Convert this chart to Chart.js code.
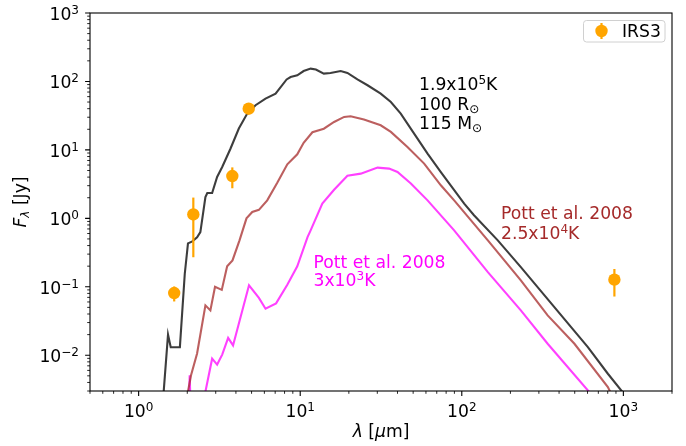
<!DOCTYPE html>
<html>
<head>
<meta charset="utf-8">
<script src="https://cdn.jsdelivr.net/npm/chart.js@4.4.0/dist/chart.umd.min.js"></script>
<style>
  body { margin: 0; background: #fff; }
  canvas { display: block; }
</style>
</head>
<body>
<canvas id="sed" width="686" height="446"></canvas>
<script>
// modelo 1.9x10^5 K, 100 Rsol, 115 Msol
var modeloX = [1.38, 1.52, 1.58, 1.80, 1.93, 2.02, 2.15, 2.30, 2.41, 2.59, 2.66, 2.85, 3.06, 3.29, 3.70, 4.17, 4.70, 5.29, 6.10, 7.04,
               8.24, 8.72, 9.59, 10.5, 11.6, 12.5, 14.0, 15.4, 17.8, 19.6, 22.6, 26.1, 31.5, 36.4, 41.9, 50.7, 61.4, 74.2, 103.5, 119,
               167, 232, 374, 603, 802, 1000];
var modeloY = [0.001, 0.020, 0.0131, 0.0131, 0.155, 0.43, 0.46, 0.53, 0.63, 2.05, 2.34, 2.34, 4.02, 5.62, 10.4, 20.5, 33.9, 44.9, 56.2, 66.5,
               107, 116, 123, 142, 154, 149, 130, 133, 142, 133, 107, 88, 66.5, 50.1, 33.9, 17.3, 8.83, 4.75, 1.64, 1.11,
               0.477, 0.194, 0.0505, 0.0131, 0.00536, 0.0028];

// Pott et al. 2008, 2.5x10^4 K
var pott25X = [2.00, 2.11, 2.30, 2.59, 2.78, 2.97, 3.27, 3.53, 3.81, 4.21, 4.65, 5.05, 5.55, 6.25, 7.21, 8.32, 9.59, 10.5, 11.9, 14.0,
               16.2, 18.7, 20.5, 24.8, 31.5, 36.4, 46.1, 58.5, 74.2, 89.7, 145, 232, 340, 498, 802, 830];
var pott25Y = [0.0026, 0.0051, 0.0106, 0.0535, 0.0452, 0.0997, 0.0901, 0.199, 0.243, 0.477, 1.0, 1.24, 1.33, 1.83, 3.30, 6.16, 8.63, 12.7, 18.1, 20.4,
               25.6, 30.3, 31.0, 27.7, 22.9, 18.3, 11.0, 6.30, 3.04, 1.83, 0.477, 0.124, 0.0382, 0.0147, 0.00342, 0.0029];

// Pott et al. 2008, 3x10^3 K
var pott3X = [2.03, 2.07, 2.11, 2.36, 2.85, 3.06, 3.29, 3.58, 3.84, 4.82, 5.55, 6.10, 7.09, 8.32, 9.59, 11.1, 11.6, 13.7, 16.2, 19.6,
              23.7, 30.1, 35.5, 40.0, 48.4, 61.4, 89.7, 145, 232, 340, 603, 636];
var pott3Y = [0.001, 0.0051, 0.001, 0.001, 0.0089, 0.0073, 0.0102, 0.0179, 0.0139, 0.105, 0.0688, 0.0478, 0.0572, 0.107, 0.199, 0.533, 0.668, 1.64, 2.61, 4.18,
              4.50, 5.51, 5.33, 4.75, 3.22, 1.83, 0.668, 0.164, 0.0452, 0.0147, 0.00306, 0.0026];

// fotometria IRS3
var irs3X = [1.66, 2.18, 3.8, 4.8, 880];
var irs3Y = [0.081, 1.14, 4.15, 40, 0.127];
var irs3Err = [0.02, 0.87, 1.4, 4, 0.055];

var xMajores = [1, 10, 100, 1000];
var xExpoentes = ['0', '1', '2', '3'];
var yMajores = [0.01, 0.1, 1, 10, 100, 1000];
var yExpoentes = ['\u22122', '\u22121', '0', '1', '2', '3'];

var FS = 17.2;
var LARANJA = '#ffa500';

function pares(xs, ys) {
    return xs.map(function (x, i) { return { x: x, y: ys[i] }; });
}

function menores(min, max) {
    var lista = [];
    for (var d = 0.001; d <= 1000; d *= 10) {
        for (var m = 2; m <= 9; m++) {
            var v = m * d;
            if (v >= min * 0.999 && v <= max * 1.001) lista.push(v);
        }
    }
    return lista;
}

function fonte(p) {
    return (p.i ? 'italic ' : '') + (p.s || FS) + 'px "DejaVu Sans", sans-serif';
}
function sup(t) { return { t: t, s: FS * 0.7, dy: -FS * 0.34 }; }
function sub(t, i) { return { t: t, s: FS * 0.7, dy: FS * 0.2, i: i }; }

// escreve texto com partes em sobrescrito / subscrito
function textoComposto(ctx, partes, x, y, align) {
    var larg = 0;
    partes.forEach(function (p) {
        ctx.font = fonte(p);
        p.w = ctx.measureText(p.t).width;
        larg += p.w;
    });
    var x0 = align === 'center' ? x - larg / 2 : (align === 'right' ? x - larg : x);
    ctx.textAlign = 'left';
    ctx.textBaseline = 'alphabetic';
    partes.forEach(function (p) {
        ctx.font = fonte(p);
        ctx.fillText(p.t, x0, y + (p.dy || 0));
        x0 += p.w;
    });
}

var eixosPlugin = {
    id: 'eixos',
    afterDatasetsDraw: function (chart) {
        // barras de erro do IRS3
        var ctx = chart.ctx, sx = chart.scales.x, sy = chart.scales.y;
        ctx.save();
        ctx.strokeStyle = LARANJA;
        ctx.lineWidth = 2.2;
        irs3X.forEach(function (x, i) {
            var px = sx.getPixelForValue(x);
            ctx.beginPath();
            ctx.moveTo(px, sy.getPixelForValue(irs3Y[i] + irs3Err[i]));
            ctx.lineTo(px, sy.getPixelForValue(irs3Y[i] - irs3Err[i]));
            ctx.stroke();
        });
        ctx.restore();
    },
    afterDraw: function (chart) {
        var ctx = chart.ctx, a = chart.chartArea, sx = chart.scales.x, sy = chart.scales.y;
        ctx.save();
        ctx.strokeStyle = '#000';
        ctx.fillStyle = '#000';

        // moldura
        ctx.lineWidth = 1.1;
        ctx.strokeRect(a.left, a.top, a.right - a.left, a.bottom - a.top);

        // marcas menores
        ctx.lineWidth = 0.85;
        ctx.beginPath();
        menores(0.5, 2000).forEach(function (v) {
            var px = sx.getPixelForValue(v);
            ctx.moveTo(px, a.bottom); ctx.lineTo(px, a.bottom + 2.8);
        });
        menores(0.003, 1000).forEach(function (v) {
            var py = sy.getPixelForValue(v);
            ctx.moveTo(a.left, py); ctx.lineTo(a.left - 2.8, py);
        });
        ctx.stroke();

        // marcas maiores
        ctx.lineWidth = 1.1;
        ctx.beginPath();
        xMajores.forEach(function (v) {
            var px = sx.getPixelForValue(v);
            ctx.moveTo(px, a.bottom); ctx.lineTo(px, a.bottom + 4.9);
        });
        yMajores.forEach(function (v) {
            var py = sy.getPixelForValue(v);
            ctx.moveTo(a.left, py); ctx.lineTo(a.left - 4.9, py);
        });
        ctx.stroke();

        // rotulos dos eixos
        xMajores.forEach(function (v, i) {
            textoComposto(ctx, [{ t: '10' }, sup(xExpoentes[i])], sx.getPixelForValue(v), a.bottom + 26, 'center');
        });
        yMajores.forEach(function (v, i) {
            textoComposto(ctx, [{ t: '10' }, sup(yExpoentes[i])], a.left - 11, sy.getPixelForValue(v) + 6.8, 'right');
        });

        textoComposto(ctx, [{ t: '\u03bb', i: true }, { t: ' [' }, { t: '\u03bc', i: true }, { t: 'm]' }],
            (a.left + a.right) / 2, 437, 'center');

        ctx.save();
        ctx.translate(25.5, (a.top + a.bottom) / 2);
        ctx.rotate(-Math.PI / 2);
        textoComposto(ctx, [{ t: 'F', i: true }, sub('\u03bb', true), { t: ' [Jy]' }], 0, 0, 'center');
        ctx.restore();

        // anotacoes dos modelos
        ctx.fillStyle = '#000';
        textoComposto(ctx, [{ t: '1.9x10' }, sup('5'), { t: 'K' }], 419, 90, 'left');
        textoComposto(ctx, [{ t: '100 R' }, sub('\u2299')], 419, 109.5, 'left');
        textoComposto(ctx, [{ t: '115 M' }, sub('\u2299')], 419, 129, 'left');

        ctx.fillStyle = '#a52a2a';
        textoComposto(ctx, [{ t: 'Pott et al. 2008' }], 501, 219, 'left');
        textoComposto(ctx, [{ t: '2.5x10' }, sup('4'), { t: 'K' }], 501, 238.5, 'left');

        ctx.fillStyle = '#ff00ff';
        textoComposto(ctx, [{ t: 'Pott et al. 2008' }], 313.5, 267.5, 'left');
        textoComposto(ctx, [{ t: '3x10' }, sup('3'), { t: 'K' }], 313.5, 286, 'left');

        // legenda
        var lx = 583.5, ly = 20.5, lw = 81.5, lh = 21.5;
        ctx.beginPath();
        ctx.roundRect(lx, ly, lw, lh, 3);
        ctx.fillStyle = 'rgba(255,255,255,0.8)';
        ctx.fill();
        ctx.strokeStyle = '#d0d0d0';
        ctx.lineWidth = 1;
        ctx.stroke();

        ctx.strokeStyle = LARANJA;
        ctx.lineWidth = 2.2;
        ctx.beginPath();
        ctx.moveTo(601.5, 23); ctx.lineTo(601.5, 39);
        ctx.stroke();
        ctx.fillStyle = LARANJA;
        ctx.beginPath();
        ctx.arc(601.5, 31, 6.2, 0, Math.PI * 2);
        ctx.fill();

        ctx.fillStyle = '#000';
        textoComposto(ctx, [{ t: 'IRS3' }], 622, 37, 'left');
        ctx.restore();
    }
};

function linhaModelo(dados, cor) {
    return {
        data: dados,
        showLine: true,
        borderColor: cor,
        borderWidth: 2.1,
        pointRadius: 0,
        tension: 0,
        fill: false
    };
}

var datasets = [
    {
        label: 'IRS3',
        data: pares(irs3X, irs3Y),
        backgroundColor: LARANJA,
        borderWidth: 0,
        pointRadius: 6.2,
        pointHoverRadius: 6.2,
        order: 0
    },
    Object.assign(linhaModelo(pares(modeloX, modeloY), 'rgba(0,0,0,0.76)'), { order: 1 }),
    Object.assign(linhaModelo(pares(pott25X, pott25Y), 'rgba(165,42,42,0.75)'), { order: 2 }),
    Object.assign(linhaModelo(pares(pott3X, pott3Y), 'rgba(255,0,255,0.75)'), { order: 3 })
];

new Chart(document.getElementById('sed'), {
    type: 'scatter',
    data: { datasets: datasets },
    options: {
        responsive: false,
        animation: false,
        devicePixelRatio: 1,
        layout: { padding: { top: 13, right: 14, left: 0, bottom: 0 } },
        plugins: { legend: { display: false }, tooltip: { enabled: false } },
        scales: {
            x: {
                type: 'logarithmic',
                min: 0.5,
                max: 2000,
                grid: { display: false, drawTicks: false },
                border: { display: false },
                ticks: { display: false },
                afterFit: function (s) { s.height = 55; }
            },
            y: {
                type: 'logarithmic',
                min: 0.003,
                max: 1000,
                grid: { display: false, drawTicks: false },
                border: { display: false },
                ticks: { display: false },
                afterFit: function (s) { s.width = 90; }
            }
        }
    },
    plugins: [eixosPlugin]
});
</script>
</body>
</html>
